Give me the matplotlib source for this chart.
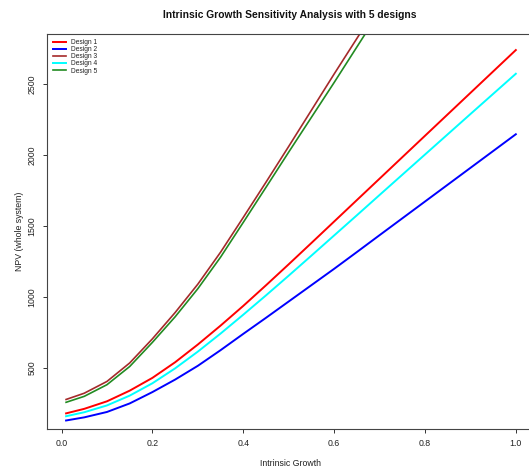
import matplotlib
matplotlib.use("Agg")
import matplotlib.pyplot as plt

plt.rcParams['font.family'] = ['Liberation Sans', 'DejaVu Sans']

growth = [0.01, 0.05, 0.1, 0.15, 0.2, 0.25, 0.3, 0.35, 0.4, 0.45, 0.5, 0.55,
          0.6, 0.65, 0.7, 0.8, 0.9, 1.0]
design1 = [180, 212, 265, 340, 430, 540, 665, 798, 937, 1082, 1230, 1380,
           1531, 1682, 1833, 2135, 2437, 2739]
design2 = [130, 152, 190, 250, 330, 418, 515, 625, 740, 853, 968, 1083,
           1198, 1316, 1435, 1672, 1909, 2146]
design3 = [278, 322, 405, 535, 705, 890, 1090, 1315, 1560, 1808, 2060, 2315,
           2570, 2820, 3070, 3570, 4070, 4570]
design4 = [160, 188, 236, 305, 392, 497, 615, 742, 875, 1011, 1150, 1291,
           1433, 1575, 1718, 2003, 2288, 2572]
design5 = [258, 300, 382, 510, 680, 860, 1058, 1280, 1525, 1772, 2020, 2265,
           2510, 2760, 3010, 3510, 4010, 4510]

names = ["Design 1", "Design 2", "Design 3", "Design 4", "Design 5"]
series = [design1, design2, design3, design4, design5]
colors = ["#FF0000", "#0000FF", "#A52A2A", "#00FFFF", "#228B22"]
widths = [1.4, 1.4, 1.2, 1.4, 1.2]
xticks = [0.0, 0.2, 0.4, 0.6, 0.8, 1.0]
xticklabels = ["0.0", "0.2", "0.4", "0.6", "0.8", "1.0"]
yticks = [500, 1000, 1500, 2000, 2500]

W, H = 529, 468
fig = plt.figure(figsize=(W / 100, H / 100), dpi=100)
ax = fig.add_axes([47 / W, (H - 429) / H, 487 / W, (429 - 34) / H])

for name, vals, c, lw in zip(names, series, colors, widths):
    ax.plot(growth, vals, color=c, lw=lw, label=name)

ax.set_xlim(-0.032, 1.04)
ax.set_ylim(70, 2852)
ax.set_xticks(xticks)
ax.set_xticklabels(xticklabels)
ax.set_yticks(yticks)
ax.set_yticklabels([str(v) for v in yticks], rotation=90, va='center')
ax.tick_params(direction='out', length=3.2, width=0.7, colors='#333333',
               labelsize=6.3, pad=4.3, labelcolor='#222222')
for s in ax.spines.values():
    s.set_color('#444444')
    s.set_linewidth(0.8)

fig.text(290 / W, 1 - 15.5 / H, "Intrinsic Growth Sensitivity Analysis with 5 designs",
         ha='center', va='center', fontsize=7.4, fontweight='bold', color='#111111')
fig.text(290 / W, 1 - 463 / H, "Intrinsic Growth", ha='center', va='center',
         fontsize=6.3, color='#222222')
fig.text(20 / W, 1 - 231 / H, "NPV (whole system)", ha='center', va='center',
         rotation=90, fontsize=6.3, color='#222222')

leg = ax.legend(loc='upper left', bbox_to_anchor=(53 / W, 1 - 39 / H),
                bbox_transform=fig.transFigure, frameon=False, fontsize=4.8,
                handlelength=2.0, handletextpad=0.75, labelspacing=0.02,
                borderaxespad=0, borderpad=0)
for t in leg.get_texts():
    t.set_color('#222222')

fig.savefig("out.png", dpi=100)
